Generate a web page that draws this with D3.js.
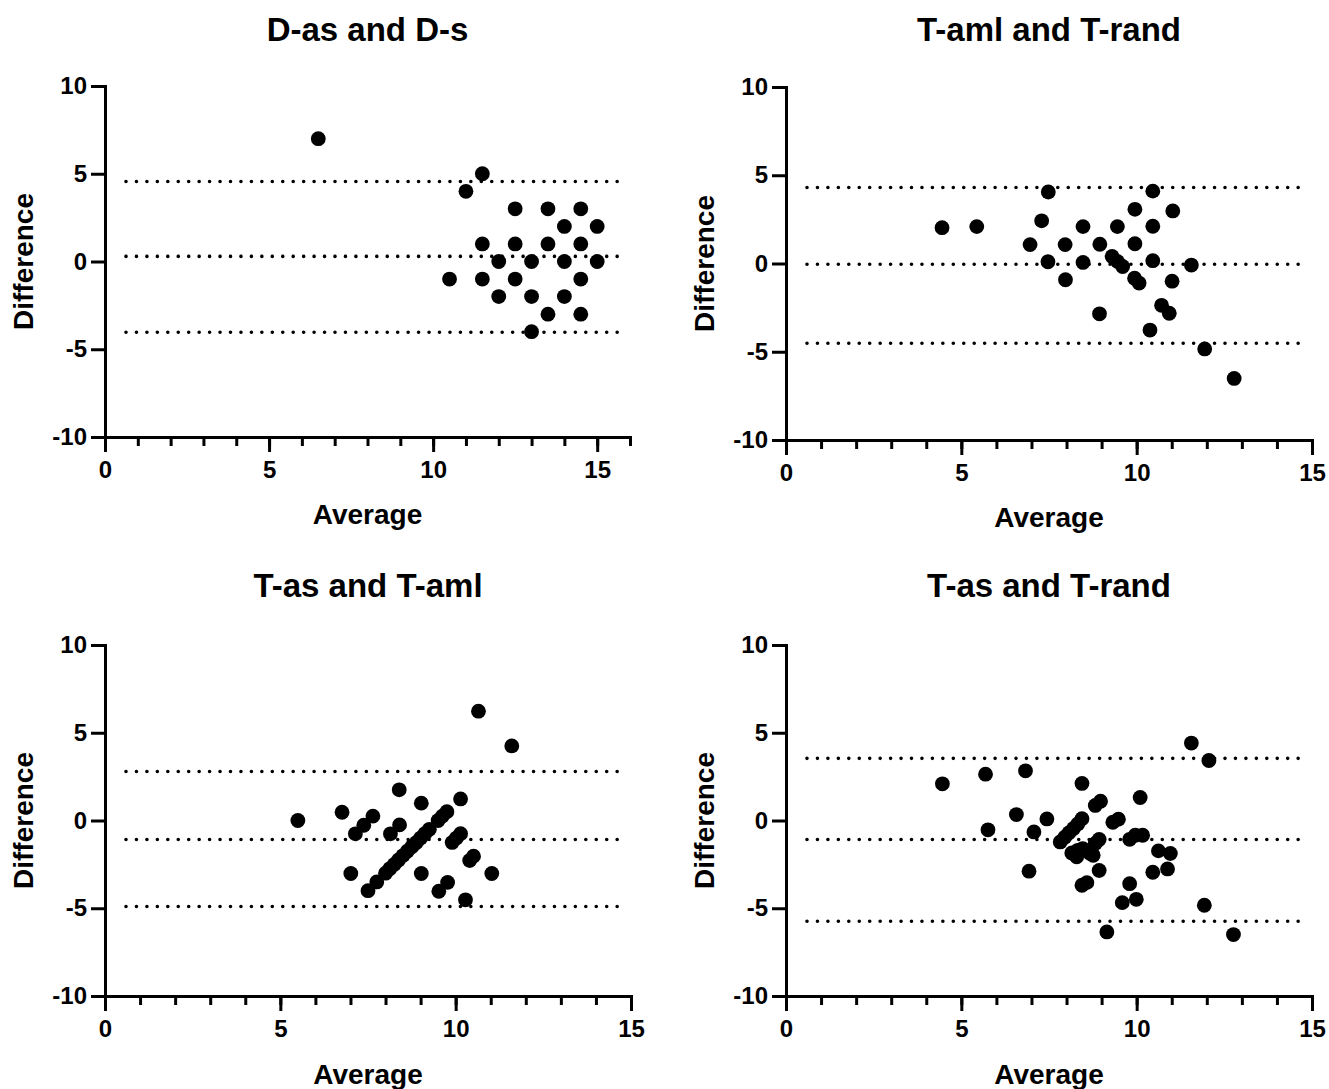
<!DOCTYPE html>
<html>
<head>
<meta charset="utf-8">
<script src="https://cdn.jsdelivr.net/npm/d3@7"></script>
<style>
  body { margin: 0; background: #fff; }
  svg text { font-family: "Liberation Sans", Arial, sans-serif; font-weight: bold; fill: #000; }
</style>
</head>
<body>
<svg id="chart" width="1329" height="1089"></svg>
<script>
// panel titles
const titles = ['D-as and D-s', 'T-aml and T-rand', 'T-as and T-aml', 'T-as and T-rand']

// points: [average, difference]
const dAsDs = [
  [6.5, 7], [11.5, 5], [11, 4],
  [12.5, 3], [13.5, 3], [14.5, 3],
  [14, 2], [15, 2],
  [11.5, 1], [12.5, 1], [13.5, 1], [14.5, 1],
  [12, 0], [13, 0], [14, 0], [15, 0],
  [10.5, -1], [11.5, -1], [12.5, -1], [14.5, -1],
  [12, -2], [13, -2], [14, -2],
  [13.5, -3], [14.5, -3],
  [13, -4]
]

const tAmlTRand = [
  [4.45, 2.03], [5.44, 2.09], [7.48, 4.05], [7.29, 2.42], [6.96, 1.07], [7.47, 0.1],
  [7.96, 1.07], [7.97, -0.92], [8.47, 2.09], [8.47, 0.06], [8.95, 1.09], [8.94, -2.85],
  [9.3, 0.4], [9.45, 2.09], [9.45, 0.12], [9.6, -0.17], [9.95, 3.07], [9.95, 1.12],
  [9.94, -0.83], [10.07, -1.11], [10.46, 4.1], [10.46, 2.11], [10.46, 0.16], [10.38, -3.77],
  [11.03, 2.98], [11.01, -1.0], [10.71, -2.37], [10.93, -2.82], [11.56, -0.09],
  [11.94, -4.84], [12.78, -6.51]
]

const tAsTAml = [
  [5.5, 0], [6.76, 0.47], [7.14, -0.76], [7.38, -0.27], [7.64, 0.25], [7.01, -3.02],
  [7.5, -4], [7.75, -3.5], [8.0, -3], [8.12, -2.75], [8.25, -2.5], [8.37, -2.25], [8.5, -2],
  [8.62, -1.75], [8.75, -1.5], [8.88, -1.25], [9.0, -1], [9.12, -0.75],
  [9.25, -0.5], [9.5, 0], [9.62, 0.25], [9.75, 0.5],
  [8.14, -0.76], [8.4, -0.25], [8.39, 1.75], [9.02, 0.99], [9.02, -3.02],
  [9.9, -1.25], [10.02, -1.0], [10.14, -0.75], [10.14, 1.23],
  [10.4, -2.28], [10.51, -2.03], [11.03, -3.02],
  [9.52, -4.03], [9.77, -3.53], [10.28, -4.52],
  [10.65, 6.23], [11.6, 4.25]
]

const tAsTRand = [
  [4.46, 2.09], [5.69, 2.64], [5.76, -0.53], [6.57, 0.34], [6.83, 2.83], [6.93, -2.89],
  [7.07, -0.65], [7.44, 0.09],
  [7.82, -1.22], [7.95, -0.95], [8.07, -0.7], [8.2, -0.45], [8.32, -0.2], [8.44, 0.1],
  [8.44, 2.11], [8.15, -1.85], [8.29, -2.07], [8.32, -1.7], [8.46, -1.6], [8.67, -1.88],
  [8.76, -1.98], [8.82, -1.31], [8.93, -1.08], [8.82, 0.86], [8.97, 1.1],
  [8.44, -3.69], [8.58, -3.54], [8.93, -2.85], [9.15, -6.35], [9.32, -0.1], [9.48, 0.07],
  [9.59, -4.68], [9.8, -3.6], [9.99, -4.49], [9.8, -1.07], [9.96, -0.84], [10.17, -0.84],
  [10.1, 1.31], [10.46, -2.95], [10.62, -1.73], [10.88, -2.76], [10.96, -1.88],
  [11.56, 4.41], [11.93, -4.83], [12.06, 3.42], [12.76, -6.5]
]

// upper limit, bias, lower limit
const limits = [
  [4.56, 0.29, -4.03],
  [4.31, -0.04, -4.52],
  [2.79, -1.08, -4.9],
  [3.54, -1.08, -5.74]
]

const xMax = [16, 15, 15, 15]
const xTicks = [0, 5, 10, 15]
const yTicks = [-10, -5, 0, 5, 10]

const series = [dAsDs, tAmlTRand, tAsTAml, tAsTRand]

// plot boxes
const boxes = [
  { l: 105, r: 630, t: 86, b: 437, ty: 41, ay: 524 },
  { l: 786, r: 1312, t: 87, b: 440, ty: 41, ay: 527 },
  { l: 105, r: 631, t: 645, b: 996, ty: 597, ay: 1084 },
  { l: 786, r: 1312, t: 645, b: 996, ty: 597, ay: 1084 }
]

let svg = d3.select('#chart')

let styleAxis = a => {
  a.selectAll('path, line')
    .attr('stroke', '#000')
    .attr('stroke-width', 3)
  a.selectAll('path').attr('stroke-linecap', 'square')
  a.selectAll('text')
    .attr('font-size', 24)
    .attr('font-family', '"Liberation Sans", Arial, sans-serif')
    .attr('font-weight', 'bold')
}

series.forEach((pts, i) => {
  let bx = boxes[i]
  let x = d3.scaleLinear().domain([0, xMax[i]]).range([bx.l, bx.r])
  let y = d3.scaleLinear().domain([-10, 10]).range([bx.b, bx.t])
  let g = svg.append('g')

  // dotted lines
  g.append('g')
    .selectAll('line')
    .data(limits[i])
    .enter()
    .append('line')
    .attr('x1', bx.l + 21)
    .attr('x2', bx.r - 9)
    .attr('y1', d => y(d))
    .attr('y2', d => y(d))
    .attr('stroke', '#000')
    .attr('stroke-width', 3.6)
    .attr('stroke-linecap', 'round')
    .attr('stroke-dasharray', '0 10.45')

  // minor x ticks
  g.append('g')
    .attr('transform', `translate(0,${bx.b})`)
    .call(d3.axisBottom(x).tickValues(d3.range(0, xMax[i] + 1)).tickSize(9).tickSizeOuter(0).tickFormat(''))
    .call(styleAxis)

  // major x ticks
  g.append('g')
    .attr('transform', `translate(0,${bx.b})`)
    .call(d3.axisBottom(x).tickValues(xTicks).tickSize(15).tickSizeOuter(0).tickPadding(9).tickFormat(d => String(d)))
    .call(styleAxis)

  g.append('g')
    .attr('transform', `translate(${bx.l},0)`)
    .call(d3.axisLeft(y).tickValues(yTicks).tickSize(14).tickSizeOuter(0).tickPadding(4).tickFormat(d => String(d)))
    .call(styleAxis)

  // points
  g.append('g')
    .selectAll('circle')
    .data(pts)
    .enter()
    .append('circle')
    .attr('cx', d => x(d[0]))
    .attr('cy', d => y(d[1]))
    .attr('r', 7.4)
    .attr('fill', '#000')

  g.append('text')
    .attr('x', (bx.l + bx.r) / 2)
    .attr('y', bx.ty)
    .attr('text-anchor', 'middle')
    .attr('font-size', 33)
    .text(titles[i])

  g.append('text')
    .attr('x', (bx.l + bx.r) / 2)
    .attr('y', bx.ay)
    .attr('text-anchor', 'middle')
    .attr('font-size', 28)
    .text('Average')

  g.append('text')
    .attr('transform', `translate(${bx.l - 72},${(bx.t + bx.b) / 2}) rotate(-90)`)
    .attr('text-anchor', 'middle')
    .attr('font-size', 28)
    .text('Difference')
})
</script>
</body>
</html>
